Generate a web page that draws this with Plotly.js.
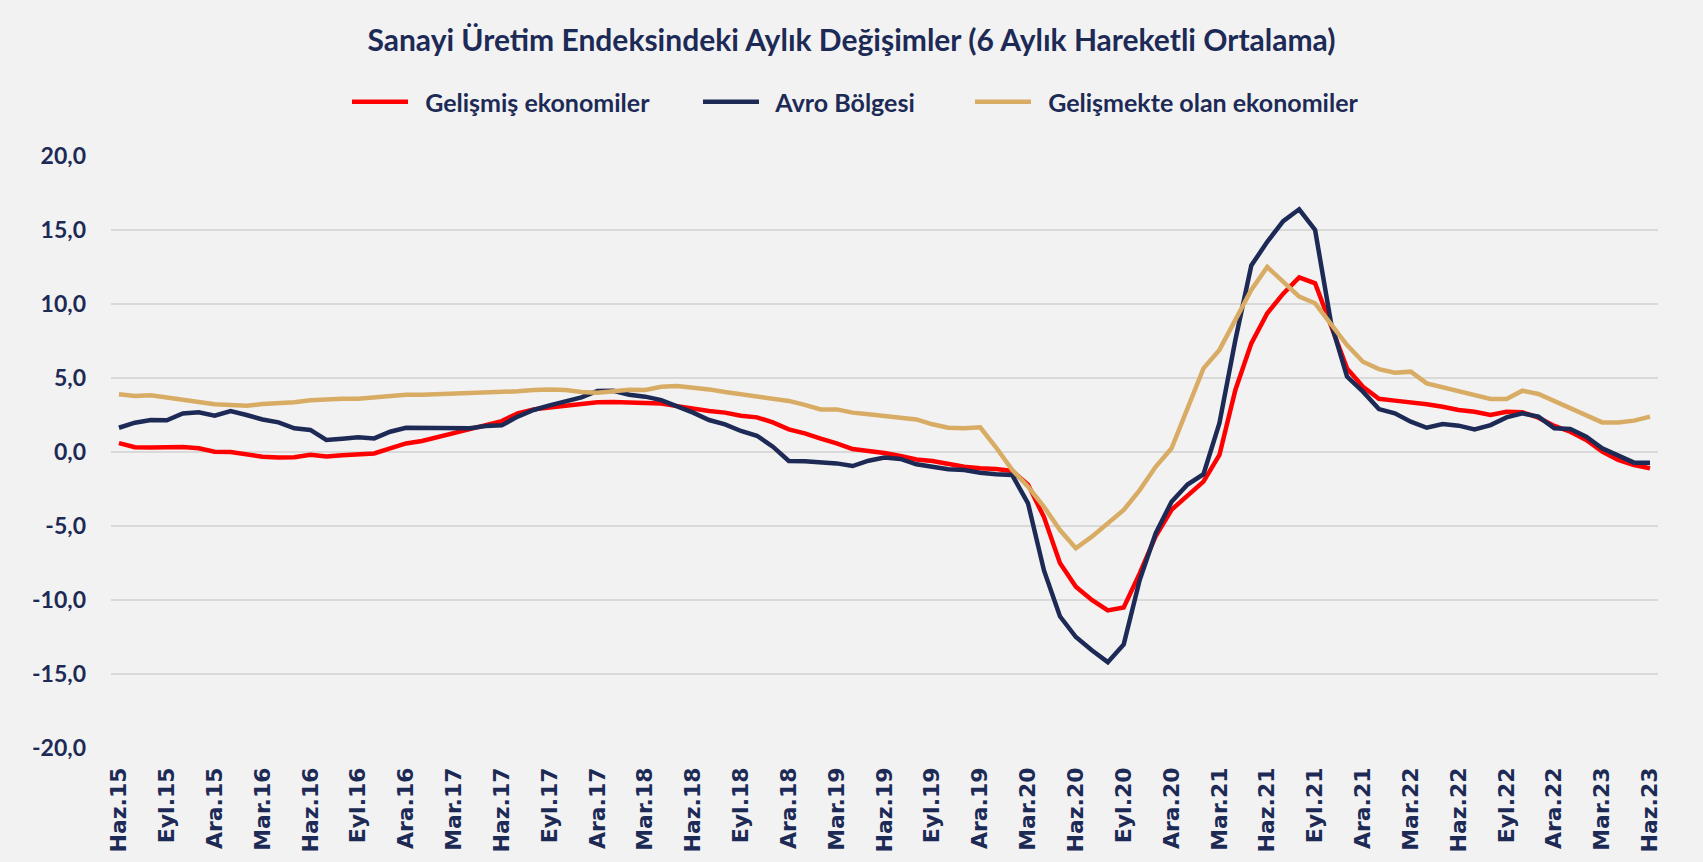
<!DOCTYPE html>
<html>
<head>
<meta charset="utf-8">
<script src="https://cdn.plot.ly/plotly-3.0.1.min.js"></script>
<style>
  html, body { margin: 0; padding: 0; background: #f2f2f2; }
  #chart { width: 1703px; height: 862px; }
</style>
</head>
<body>
<div id="chart"></div>
<script>
// Turkish month abbreviations, series start Haz.15 (June 2015) to Haz.23
const monthNames = ["Oca", "Şub", "Mar", "Nis", "May", "Haz", "Tem", "Ağu", "Eyl", "Eki", "Kas", "Ara"];
const startMonth = 5;   // Haziran
const startYear = 15;
const nMonths = 97;

const categories = [];
for (let i = 0; i < nMonths; i++) {
  const m = (startMonth + i) % 12;
  const y = startYear + Math.floor((startMonth + i) / 12);
  categories.push(monthNames[m] + "." + y);
}
const tickLabels = categories.filter((c, i) => i % 3 === 0);

const gelismis = [
  0.6, 0.32, 0.3, 0.3, 0.34, 0.25, 0.02, 0.0, -0.16, -0.32,
  -0.38, -0.36, -0.18, -0.3, -0.22, -0.16, -0.1, 0.25, 0.58, 0.74,
  0.99, 1.26, 1.55, 1.82, 2.09, 2.61, 2.88, 3.0, 3.13, 3.22,
  3.36, 3.38, 3.36, 3.36, 3.27, 3.1, 2.9, 2.77, 2.66, 2.45,
  2.34, 2.0, 1.53, 1.26, 0.9, 0.59, 0.2, 0.09, -0.07, -0.27,
  -0.5, -0.61, -0.81, -0.99, -1.1, -1.15, -1.28, -2.2, -4.4, -7.5,
  -9.1, -10.0, -10.7, -10.5, -8.2, -5.7, -3.9, -2.9, -2.0, -0.2,
  4.19, 7.34, 9.37, 10.7, 11.8, 11.4, 8.47, 5.65, 4.41, 3.6,
  3.47, 3.36, 3.22, 3.06, 2.84, 2.72, 2.5, 2.72, 2.68, 2.32,
  1.76, 1.37, 0.81, 0.02, -0.54, -0.88, -1.1
];

const avroBolgesi = [
  1.64, 1.98, 2.16, 2.14, 2.6, 2.68, 2.45, 2.77, 2.5, 2.2,
  2.0, 1.6, 1.49, 0.81, 0.9, 0.99, 0.92, 1.37, 1.64, 1.64,
  1.58, 1.62, 1.6, 1.76, 1.8, 2.39, 2.84, 3.15, 3.42, 3.69,
  4.12, 4.14, 3.87, 3.74, 3.51, 3.1, 2.66, 2.16, 1.87, 1.42,
  1.1, 0.36, -0.61, -0.63, -0.7, -0.77, -0.95, -0.59, -0.38, -0.47,
  -0.83, -0.99, -1.17, -1.22, -1.4, -1.5, -1.55, -3.47, -8.0, -11.1,
  -12.5, -13.4, -14.2, -13.0, -8.65, -5.5, -3.36, -2.2, -1.5, 1.94,
  7.57, 12.6, 14.2, 15.6, 16.4, 15.0, 8.7, 5.1, 4.08, 2.9,
  2.61, 2.05, 1.64, 1.89, 1.78, 1.53, 1.82, 2.34, 2.61, 2.39,
  1.6, 1.55, 1.04, 0.25, -0.2, -0.72, -0.72
];

const gelismekte = [
  3.9, 3.78, 3.83, 3.67, 3.51, 3.4, 3.22, 3.18, 3.13, 3.24,
  3.27, 3.36, 3.49, 3.56, 3.6, 3.6, 3.69, 3.78, 3.87, 3.87,
  3.9, 3.99, 4.03, 4.05, 4.05, 4.1, 4.19, 4.23, 4.19, 4.05,
  4.0, 4.12, 4.21, 4.19, 4.41, 4.46, 4.37, 4.23, 4.05, 3.9,
  3.76, 3.56, 3.45, 3.18, 2.88, 2.88, 2.66, 2.55, 2.45, 2.34,
  2.2, 1.87, 1.64, 1.6, 1.67, 0.3, -1.2, -2.34, -3.7, -5.27,
  -6.5, -5.72, -4.82, -3.92, -2.57, -1.0, 0.25, 2.9, 5.65, 6.9,
  8.9, 10.95, 12.5, 11.5, 10.5, 10.05, 8.7, 7.23, 6.1, 5.6,
  5.36, 5.43, 4.64, 4.37, 4.12, 3.85, 3.58, 3.58, 4.14, 3.92,
  3.45, 3.02, 2.5, 2.0, 2.0, 2.12, 2.39
];

const seriesNames = ["Gelişmiş ekonomiler", "Avro Bölgesi", "Gelişmekte olan ekonomiler"];
const yTickVals = [-20, -15, -10, -5, 0, 5, 10, 15, 20];
const yTickText = ["-20,0", "-15,0", "-10,0", "-5,0", "0,0", "5,0", "10,0", "15,0", "20,0"];

const navy = "#1d2a56";
const colors = ["#ff0000", navy, "#d8ac64"];
const legendIds = ["legend", "legend2", "legend3"];
const legendX = [347 / 1703, 698 / 1703, 970 / 1703];
const legendPad = "\u00a0\u00a0";

// tick marks sit on category boundaries, every 3rd category
const boundaryTicks = [];
for (let i = 0; i < nMonths; i += 3) boundaryTicks.push(i - 0.5);

const series = [gelismis, avroBolgesi, gelismekte];
const traces = series.map((vals, k) => ({
  type: "scatter",
  mode: "lines",
  x: categories,
  y: vals,
  name: legendPad + seriesNames[k],
  legend: legendIds[k],
  line: { color: colors[k], width: 4.5 },
  hoverinfo: "skip"
}));

function legendAt(x) {
  return {
    orientation: "h",
    x: x, xref: "container", xanchor: "left",
    y: 1 - 102 / 862, yref: "container", yanchor: "middle",
    font: { family: "Lato, sans-serif", size: 25, color: navy, weight: "bold" },
    bgcolor: "rgba(0,0,0,0)",
    itemwidth: 56
  };
}

const layout = {
  width: 1703,
  height: 862,
  paper_bgcolor: "#f2f2f2",
  plot_bgcolor: "#f2f2f2",
  margin: { l: 111, r: 45, t: 156, b: 114 },
  font: { family: "Lato, 'Open Sans', sans-serif", color: navy },
  title: {
    text: "<b>Sanayi Üretim Endeksindeki Aylık Değişimler (6 Aylık Hareketli Ortalama)</b>",
    font: { family: "Lato, sans-serif", size: 30, color: navy },
    x: 0.5, xref: "container", xanchor: "center",
    y: 1 - 40 / 862, yref: "container", yanchor: "middle"
  },
  showlegend: true,
  legend: legendAt(legendX[0]),
  legend2: legendAt(legendX[1]),
  legend3: legendAt(legendX[2]),
  xaxis: {
    type: "category",
    categoryorder: "array",
    categoryarray: categories,
    range: [-0.5, nMonths - 0.5],
    tickmode: "array",
    tickvals: tickLabels,
    ticktext: tickLabels,
    tickangle: -90,
    ticks: "",
    ticklabelstandoff: 14,
    tickfont: { family: "'DejaVu Sans', sans-serif", size: 22, color: navy, weight: "bold" },
    showgrid: false,
    zeroline: false,
    showline: false,
    automargin: false,
    fixedrange: true
  },
  xaxis2: {
    overlaying: "x",
    anchor: "free",
    position: 0.5,
    side: "bottom",
    type: "linear",
    range: [-0.5, nMonths - 0.5],
    tickmode: "array",
    tickvals: boundaryTicks,
    ticks: "outside",
    ticklen: 8,
    tickwidth: 1.5,
    tickcolor: "#d6d6d6",
    showticklabels: false,
    showgrid: false,
    zeroline: false,
    showline: false,
    automargin: false
  },
  yaxis: {
    range: [-20, 20],
    tickmode: "array",
    tickvals: yTickVals,
    ticktext: yTickText,
    ticks: "",
    ticklabelstandoff: 24,
    tickfont: { family: "Lato, sans-serif", size: 23, color: navy, weight: "bold" },
    showgrid: true,
    gridcolor: "#d9d9d9",
    gridwidth: 1.5,
    zeroline: false,
    showline: false,
    automargin: false,
    fixedrange: true
  }
};

Plotly.newPlot("chart", traces, layout, { displayModeBar: false, staticPlot: true });
</script>
</body>
</html>
